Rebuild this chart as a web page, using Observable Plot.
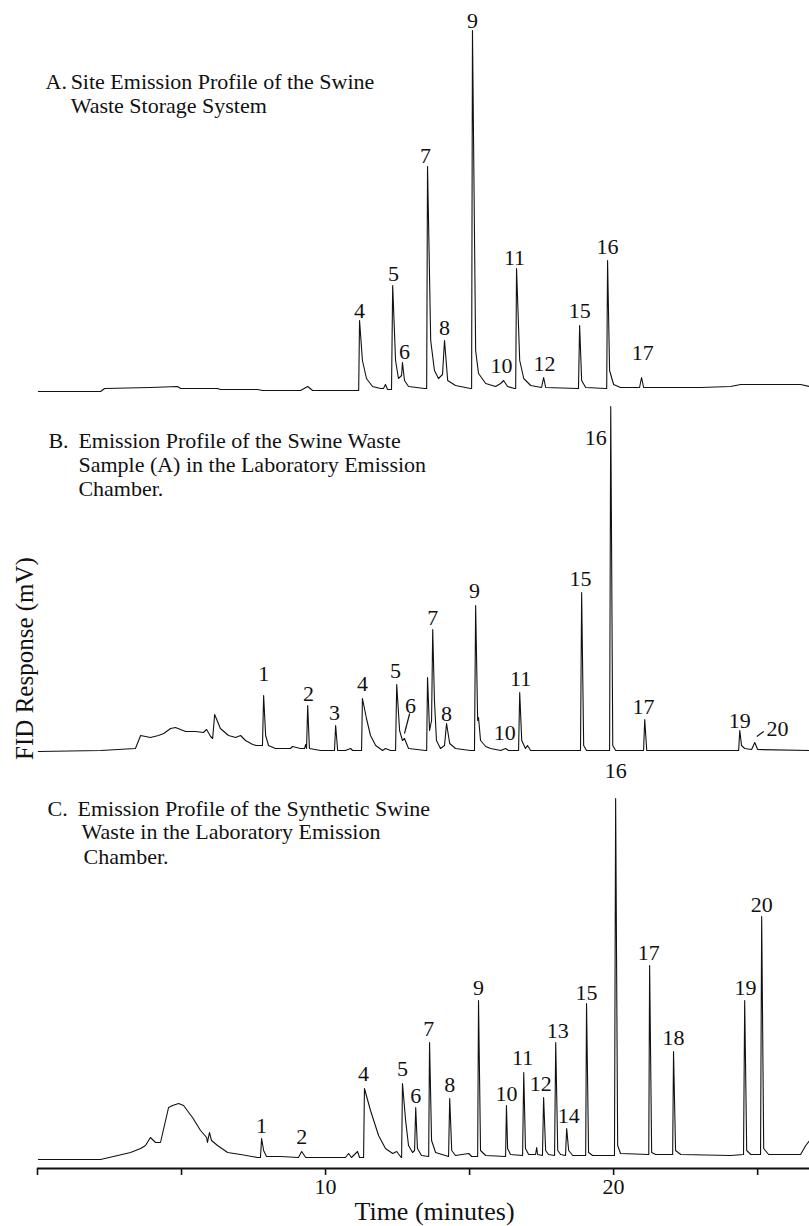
<!DOCTYPE html>
<html><head><meta charset="utf-8">
<script src="https://cdn.jsdelivr.net/npm/d3@7"></script>
<script src="https://cdn.jsdelivr.net/npm/@observablehq/plot@0.6"></script>
<style>body{margin:0;background:#fff} svg{display:block}</style>
</head><body><div id="chart"></div>
<script>
// Trace vertices: [time (min), response above panel baseline (mV, arbitrary)]
const traceA = [[0.03,-3],[2.19,-3],[2.33,0],[3.92,1],[4.86,2],[4.97,0],[6.25,0],[6.35,-1],[7.64,-1],[7.81,-2],[9.13,-2],[9.38,2],[9.55,-2],[11.04,-2],[11.15,-2],[11.18,68],[11.28,28],[11.42,10],[11.63,2],[11.91,0],[12.01,0],[12.08,4],[12.15,-1],[12.29,-1],[12.33,103],[12.43,28],[12.53,10],[12.64,13],[12.67,26],[12.74,8],[12.88,2],[13.44,0],[13.51,0],[13.54,222],[13.65,48],[13.78,18],[13.92,10],[14.06,14],[14.13,48],[14.24,8],[14.51,3],[15.03,0],[15.07,0],[15.10,358],[15.21,38],[15.31,15],[15.56,5],[15.90,2],[16.08,5],[16.18,8],[16.32,2],[16.56,0],[16.60,0],[16.63,120],[16.74,28],[16.88,10],[17.12,3],[17.50,1],[17.57,11],[17.64,1],[18.75,0],[18.78,0],[18.82,63],[18.89,8],[19.03,1],[19.72,0],[19.76,0],[19.79,128],[19.86,18],[20.00,4],[20.24,1],[20.90,1],[20.97,11],[21.04,1],[23.02,1],[24.06,2],[24.41,4],[26.49,4],[26.81,2]];
const traceB = [[0.03,-1],[2.19,0],[3.40,2],[3.58,15],[3.92,13],[4.20,15],[4.38,17],[4.62,22],[4.79,23],[5.14,19],[5.49,19],[5.76,18],[5.87,21],[6.01,14],[6.08,12],[6.15,36],[6.35,22],[6.63,15],[6.88,13],[7.05,15],[7.22,10],[7.47,6],[7.60,5],[7.81,5],[7.85,55],[7.92,15],[8.02,5],[8.26,2],[8.78,2],[8.85,4],[9.13,2],[9.27,2],[9.31,6],[9.34,2],[9.38,45],[9.44,2],[9.83,0],[10.31,0],[10.35,25],[10.42,0],[10.69,0],[10.87,2],[10.94,0],[11.25,0],[11.28,52],[11.42,32],[11.56,15],[11.74,5],[11.98,0],[12.08,2],[12.26,0],[12.43,0],[12.47,66],[12.57,20],[12.67,10],[12.74,12],[12.88,2],[13.47,0],[13.51,0],[13.54,73],[13.61,20],[13.68,30],[13.72,121],[13.78,50],[13.85,10],[13.99,2],[14.13,5],[14.20,27],[14.31,7],[14.51,2],[15.03,0],[15.17,0],[15.21,145],[15.28,30],[15.31,33],[15.38,10],[15.56,4],[15.73,2],[16.08,0],[16.25,2],[16.35,0],[16.70,0],[16.74,58],[16.81,10],[16.94,2],[17.01,5],[17.12,0],[18.85,0],[18.89,158],[18.96,5],[19.06,0],[19.86,0],[19.90,344],[19.97,5],[20.07,0],[21.04,0],[21.08,31],[21.15,0],[24.34,0],[24.38,20],[24.44,5],[24.55,2],[24.79,1],[24.90,8],[25.00,1],[26.81,0]];
const traceC = [[0.03,-2],[2.19,-2],[3.23,5],[3.58,9],[3.75,12],[3.92,20],[4.10,15],[4.27,15],[4.55,50],[4.69,52],[4.90,54],[5.07,52],[5.38,40],[5.66,27],[5.87,20],[5.90,15],[5.97,25],[6.04,17],[6.25,12],[6.60,5],[7.05,3],[7.64,0],[7.74,0],[7.78,19],[7.85,7],[7.95,1],[8.44,1],[9.06,0],[9.17,6],[9.31,0],[10.69,0],[10.80,4],[10.90,0],[11.11,6],[11.18,0],[11.32,0],[11.35,69],[11.56,47],[11.84,22],[12.08,9],[12.33,4],[12.47,6],[12.60,1],[12.64,0],[12.67,74],[12.78,37],[12.88,12],[13.02,5],[13.09,7],[13.13,50],[13.19,9],[13.33,2],[13.58,1],[13.61,115],[13.68,17],[13.82,5],[14.27,1],[14.31,59],[14.38,7],[14.51,2],[14.97,4],[15.07,1],[15.28,1],[15.31,157],[15.38,7],[15.56,2],[16.25,1],[16.28,52],[16.32,9],[16.42,3],[16.84,2],[16.88,85],[16.94,9],[17.05,3],[17.29,3],[17.33,10],[17.36,3],[17.53,2],[17.57,60],[17.64,7],[17.74,3],[17.95,2],[17.99,115],[18.06,7],[18.16,3],[18.33,2],[18.37,29],[18.44,7],[18.58,2],[19.03,2],[19.06,154],[19.13,5],[19.27,2],[20.03,2],[20.07,359],[20.14,12],[20.24,4],[21.22,3],[21.25,192],[21.32,5],[21.46,3],[22.05,3],[22.08,106],[22.15,7],[22.33,3],[24.06,2],[24.51,3],[24.55,157],[24.62,7],[24.76,3],[25.10,3],[25.14,241],[25.21,9],[25.38,3],[26.49,3],[26.67,12],[26.81,17]];

// Peak numbers: [label, time, height above panel baseline]
const peakLabelsA = [["4",11.18,78],["5",12.36,115],["6",12.74,37],["7",13.47,233],["8",14.13,61],["9",15.10,368],["10",16.11,23],["11",16.56,131],["12",17.60,25],["15",18.82,78],["16",19.79,142],["17",21.01,36]];
const peakLabelsB = [["1",7.85,77],["2",9.41,57],["3",10.31,38],["4",11.28,67],["5",12.43,80],["6",12.95,45],["7",13.72,133],["8",14.20,37],["9",15.17,160],["10",16.22,18],["11",16.77,72],["15",18.85,172],["16",19.38,313],["17",21.04,44],["19",24.38,30],["20",25.69,22]];
const peakLabelsC = [["1",7.78,32],["2",9.17,21],["4",11.32,84],["5",12.67,89],["6",13.13,62],["7",13.58,129],["8",14.31,73],["9",15.31,170],["10",16.28,64],["11",16.84,100],["12",17.47,74],["13",18.06,127],["14",18.44,42],["15",19.06,165],["16",20.07,387],["17",21.22,205],["18",22.08,120],["19",24.58,170],["20",25.14,253]];
// Leader strokes in panel B: [t1, h1, t2, h2]
const leadersB = [[12.92,37,12.74,17],[24.97,14,25.21,19]];

// Panel titles: [panel, text, start time, height above panel baseline]
const titleLines = [
  ["A","A.",0.28,300],["A","Site Emission Profile of the Swine",1.15,300],["A","Waste Storage System",1.15,276],
  ["B","B.",0.38,303],["B","Emission Profile of the Swine Waste",1.42,303],["B","Sample (A) in the Laboratory Emission",1.42,279],["B","Chamber.",1.42,255],
  ["C","C.",0.35,342],["C","Emission Profile of the Synthetic Swine",1.39,342],["C","Waste in the Laboratory Emission",1.53,319],["C","Chamber.",1.60,294]
];

const panelOffset = {A: 780, B: 418, C: 11};
const xTicks = [0, 5, 10, 15, 20, 25];
const xTickLabels = [10, 20];
const xLabel = "Time (minutes)";
const yLabel = "FID Response (mV)";

const rows = [["A", traceA], ["B", traceB], ["C", traceC]]
  .flatMap(([p, tr]) => tr.map(([t, h]) => ({panel: p, t, v: panelOffset[p] + h})));
const labels = [["A", peakLabelsA], ["B", peakLabelsB], ["C", peakLabelsC]]
  .flatMap(([p, arr]) => arr.map(([s, t, h]) => ({s, t, v: panelOffset[p] + h})));
const titles = titleLines.map(([p, s, t, h]) => ({s, t, v: panelOffset[p] + h}));
const leaders = leadersB.map(([t1, h1, t2, h2]) => ({t1, t2, v1: panelOffset.B + h1, v2: panelOffset.B + h2}));

const chart = Plot.plot({
  width: 809, height: 1226,
  marginLeft: 37, marginRight: 0, marginTop: 0, marginBottom: 58,
  x: {domain: [0, 26.8]},
  y: {domain: [0, 1168], axis: null},
  style: {fontFamily: "'Liberation Serif', serif", color: "#111", background: "#fff", fontSize: "22px"},
  marks: [
    Plot.ruleY([0], {stroke: "#111", strokeWidth: 2}),
    Plot.axisX({ticks: xTicks, tickSize: 7, tickPadding: 3, tickFormat: d => xTickLabels.includes(d) ? String(d) : "", label: null, fontSize: 22, strokeWidth: 1.6}),
    Plot.line(rows, {x: "t", y: "v", z: "panel", stroke: "#111", strokeWidth: 1.1}),
    Plot.link(leaders, {x1: "t1", y1: "v1", x2: "t2", y2: "v2", stroke: "#111", strokeWidth: 1.2}),
    Plot.text(labels, {x: "t", y: "v", text: "s", fontSize: 22, textAnchor: "middle", lineAnchor: "middle", fill: "#111"}),
    Plot.text(titles, {x: "t", y: "v", text: "s", fontSize: 22, textAnchor: "start", lineAnchor: "bottom", fill: "#111"}),
    Plot.text([xLabel], {frameAnchor: "bottom", dx: 11, dy: 43, fontSize: 26, textAnchor: "middle", lineAnchor: "middle", fill: "#111"}),
    Plot.text([yLabel], {frameAnchor: "left", rotate: -90, dx: -13, dy: 74, fontSize: 25, textAnchor: "middle", lineAnchor: "middle", fill: "#111"})
  ]
});
document.getElementById("chart").appendChild(chart);
</script>
</body></html>
